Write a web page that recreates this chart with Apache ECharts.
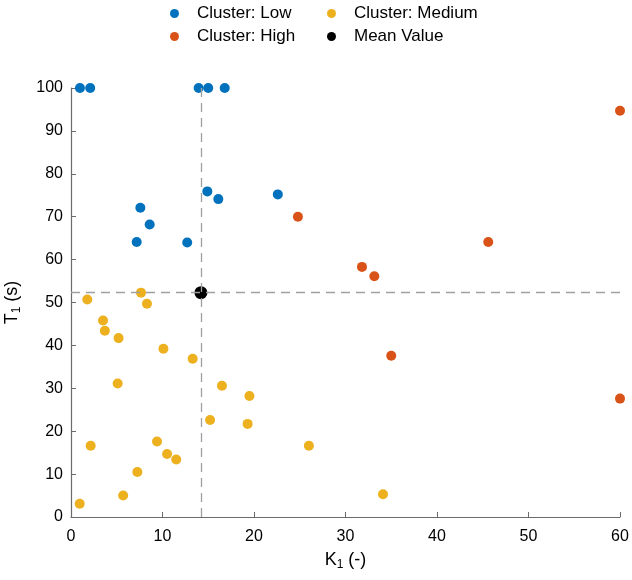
<!DOCTYPE html>
<html>
<head>
<meta charset="utf-8">
<script src="https://cdn.jsdelivr.net/npm/echarts@6/dist/echarts.min.js"></script>
<style>
html, body { margin: 0; padding: 0; background: #fff; }
#main { width: 632px; height: 580px; }
</style>
</head>
<body>
<div id="main"></div>
<script>
// K1, T1 pairs
var lowPts = [
    [0.98, 100], [2.1, 100], [13.95, 100], [15.0, 100], [16.8, 100],
    [14.9, 75.9], [16.1, 74.1], [22.6, 75.2], [7.58, 72.1], [8.6, 68.2],
    [7.18, 64.1], [12.7, 64.0]
];
var highPts = [
    [60, 94.7], [24.8, 70.0], [45.6, 64.1], [31.8, 58.3], [33.15, 56.1],
    [35.0, 37.6], [60, 27.6]
];
var mediumPts = [
    [1.78, 50.7], [7.65, 52.3], [8.3, 49.7], [3.5, 45.8], [3.7, 43.4],
    [5.2, 41.7], [10.1, 39.2], [13.3, 36.9], [5.1, 31.1], [16.5, 30.6],
    [19.5, 28.2], [15.2, 22.6], [19.3, 21.7], [2.15, 16.6], [9.4, 17.6],
    [10.5, 14.7], [11.5, 13.4], [7.25, 10.5], [5.7, 5.0], [0.95, 3.1],
    [26.0, 16.6], [34.1, 5.3]
];
var meanPt = [14.2, 52.3];

var font = 'Liberation Sans, Arial, Helvetica, sans-serif';
var axisGray = '#6b6b6b';

function legendAt(name, left, top) {
    return {
        data: [name],
        left: left, top: top,
        icon: 'circle',
        itemWidth: 35, itemHeight: 9,
        padding: 0,
        textStyle: {fontFamily: font, fontSize: 17, color: '#000'}
    };
}

var chart = echarts.init(document.getElementById('main'));
chart.setOption({
    animation: false,
    textStyle: {fontFamily: font},
    legend: [
        legendAt('Cluster: Low', 170, 5),
        legendAt('Cluster: Medium', 327, 5),
        legendAt('Cluster: High', 170, 28),
        legendAt('Mean Value', 327, 28)
    ],
    grid: {left: 71, right: 12, top: 88, bottom: 63, outerBoundsMode: 'none'},
    xAxis: {
        type: 'value', min: 0, max: 60, interval: 10,
        name: 'K{sub|1} (-)', nameLocation: 'middle', nameGap: 33,
        nameTextStyle: {
            fontSize: 18, color: '#000',
            rich: {sub: {fontSize: 12, verticalAlign: 'bottom', padding: [9, 0, 0, 0]}}
        },
        axisLine: {lineStyle: {color: axisGray, width: 1.2}},
        axisTick: {inside: true, length: 5, lineStyle: {color: axisGray}},
        axisLabel: {fontSize: 16, color: '#000', margin: 12},
        splitLine: {show: false}
    },
    yAxis: {
        type: 'value', min: 0, max: 100, interval: 10,
        name: 'T{sub|1} (s)', nameLocation: 'middle', nameGap: 48, nameRotate: 90,
        nameTextStyle: {
            fontSize: 18, color: '#000',
            rich: {sub: {fontSize: 12, verticalAlign: 'bottom', padding: [9, 0, 0, 0]}}
        },
        axisLine: {show: true, lineStyle: {color: axisGray, width: 1.2}},
        axisTick: {show: true, inside: true, length: 5, lineStyle: {color: axisGray}},
        axisLabel: {fontSize: 16, color: '#000', margin: 8},
        splitLine: {show: false}
    },
    series: [
        {
            name: 'Cluster: Low', type: 'scatter', data: lowPts,
            symbolSize: 10, clip: false,
            itemStyle: {color: '#0072BD', opacity: 1}
        },
        {
            name: 'Cluster: High', type: 'scatter', data: highPts,
            symbolSize: 10, clip: false,
            itemStyle: {color: '#D95319', opacity: 1}
        },
        {
            name: 'Cluster: Medium', type: 'scatter', data: mediumPts,
            symbolSize: 10, clip: false,
            itemStyle: {color: '#EDB120', opacity: 1}
        },
        {
            name: 'Mean Value', type: 'scatter', data: [meanPt],
            symbolSize: 13, clip: false, z: 3,
            itemStyle: {color: '#000', opacity: 1},
            markLine: {
                silent: true,
                symbol: ['none', 'none'],
                label: {show: false},
                lineStyle: {color: '#a0a0a0', type: [9, 6], width: 1.3},
                data: [{xAxis: meanPt[0]}, {yAxis: meanPt[1]}]
            }
        }
    ]
});
</script>
</body>
</html>
